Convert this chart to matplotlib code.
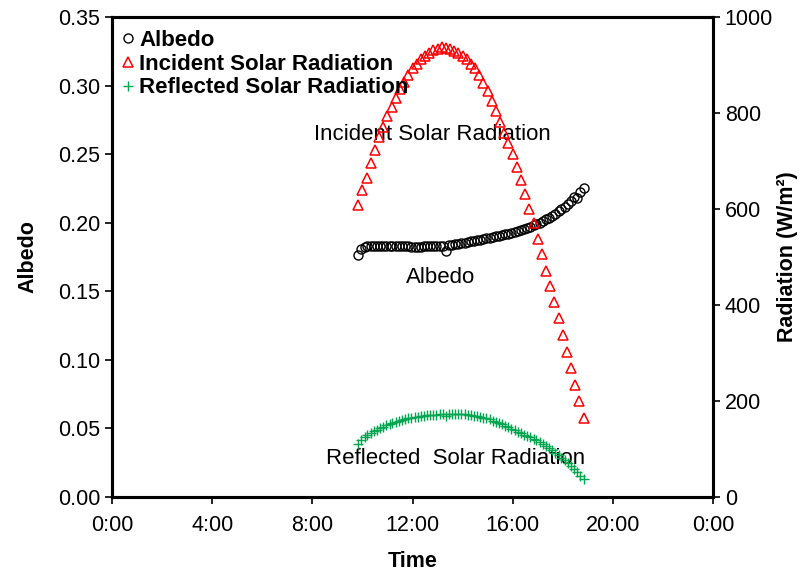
import matplotlib
matplotlib.use('Agg')
import matplotlib.pyplot as plt

plt.rcParams['font.family'] = ['Liberation Sans', 'DejaVu Sans']

# incident radiation, 10 minute readings
inc_times = ['9:50', '10:00', '10:10', '10:20', '10:30', '10:40', '10:50',
             '11:00', '11:10', '11:20', '11:30', '11:40', '11:50',
             '12:00', '12:10', '12:20', '12:30', '12:40', '12:50',
             '13:00', '13:10', '13:20', '13:30', '13:40', '13:50',
             '14:00', '14:10', '14:20', '14:30', '14:40', '14:50',
             '15:00', '15:10', '15:20', '15:30', '15:40', '15:50',
             '16:00', '16:10', '16:20', '16:30', '16:40', '16:50',
             '17:00', '17:10', '17:20', '17:30', '17:40', '17:50',
             '18:00', '18:10', '18:20', '18:30', '18:40', '18:50']
incident = [608, 640, 665, 695, 723, 749, 771, 794, 813, 832,
            849, 865, 879, 893, 903, 912, 919, 926, 931, 934,
            937, 936, 933, 929, 924, 919, 912, 903, 893, 879,
            862, 845, 825, 804, 781, 758, 737, 714, 688, 660,
            631, 601, 570, 537, 506, 471, 440, 406, 372, 338,
            303, 268, 233, 199, 164]

# albedo + reflected radiation
alb_times = ['9:50', '9:57',
             '10:05', '10:12', '10:20', '10:27', '10:35', '10:42', '10:50', '10:57',
             '11:05', '11:12', '11:20', '11:27', '11:35', '11:42', '11:50', '11:57',
             '12:05', '12:12', '12:20', '12:27', '12:35', '12:42', '12:50', '12:57',
             '13:05', '13:12', '13:20', '13:27', '13:35', '13:42', '13:50', '13:57',
             '14:05', '14:12', '14:20', '14:27', '14:35', '14:42', '14:50', '14:57',
             '15:05', '15:12', '15:20', '15:27', '15:35', '15:42', '15:50', '15:57',
             '16:05', '16:12', '16:20', '16:27', '16:35', '16:42', '16:50', '16:57',
             '17:05', '17:12', '17:20', '17:27', '17:35', '17:42', '17:50', '17:57',
             '18:05', '18:12', '18:20', '18:27', '18:35', '18:42', '18:50']
albedo = [0.1765, 0.1810, 0.1825, 0.1830, 0.1832,
          0.1832, 0.1831, 0.1831, 0.1830, 0.1830, 0.1829, 0.1829, 0.1828,
          0.1828, 0.1827, 0.1827, 0.1827, 0.1826, 0.1826, 0.1826, 0.1826,
          0.1827, 0.1827, 0.1828, 0.1828, 0.1829, 0.1830, 0.1831,
          0.1796,
          0.1835, 0.1838, 0.1842, 0.1846, 0.1850, 0.1855, 0.1860, 0.1864,
          0.1868, 0.1872, 0.1876, 0.1880, 0.1885, 0.1890, 0.1895, 0.1900,
          0.1905, 0.1910, 0.1915, 0.1921, 0.1927, 0.1933, 0.1939, 0.1946,
          0.1953, 0.1960, 0.1968,
          0.1980, 0.1990, 0.2000, 0.2012, 0.2024, 0.2037, 0.2051, 0.2066,
          0.2082, 0.2099, 0.2117, 0.2136, 0.2156, 0.2190, 0.2180, 0.2222, 0.2255]
reflected = [110, 118, 124, 129, 134, 137, 140, 143, 146, 149,
             151, 154, 156, 158, 160, 162, 164, 165, 166, 167,
             168, 169, 170, 171, 171, 171, 172, 172, 169, 173,
             173, 173, 172, 172, 172, 171, 170, 169, 168, 167,
             165, 164, 162, 159, 157, 154, 151, 148, 145, 142,
             139, 136, 133, 130, 127, 124, 121, 118, 114, 110,
             106, 101, 97, 92, 87, 81, 76, 70, 64, 58,
             51, 44, 37]

xtick_labels = ['0:00', '4:00', '8:00', '12:00', '16:00', '20:00', '0:00']


def to_hours(s):
    h, m = s.split(':')
    return int(h) + int(m) / 60.0


t_inc = [to_hours(s) for s in inc_times]
t_alb = [to_hours(s) for s in alb_times]

fig = plt.figure(figsize=(8.02, 5.76), dpi=100)
ax1 = fig.add_subplot(111)
fig.subplots_adjust(left=0.1397, right=0.889, top=0.9705, bottom=0.1372)
ax2 = ax1.twinx()

l1, = ax1.plot(t_alb, albedo, 'o', mfc='none', mec='black', ms=6.5, mew=1.0,
               label='Albedo')
l2, = ax2.plot(t_inc, incident, '^', mfc='none', mec='#ff0000', ms=7.5, mew=1.1,
               label='Incident Solar Radiation')
l3, = ax2.plot(t_alb, reflected, '+', color='#00a550', ms=7, mew=1.0,
               label='Reflected Solar Radiation')

ax1.set_xlim(0, 24)
ax1.set_ylim(0, 0.35)
ax2.set_ylim(0, 1000)
ax1.set_xticks(range(0, 25, 4))
ax1.set_xticklabels(xtick_labels)
ax1.set_yticks([0, 0.05, 0.10, 0.15, 0.20, 0.25, 0.30, 0.35])
ax1.set_yticklabels(['%.2f' % v for v in ax1.get_yticks()])
ax2.set_yticks(range(0, 1001, 200))

for a in (ax1, ax2):
    for sp in a.spines.values():
        sp.set_linewidth(2.2)
    a.tick_params(direction='out', length=5, width=1.2, labelsize=15.5)
ax1.tick_params(axis='x', pad=8)

ax1.set_xlabel('Time', fontsize=15.5, fontweight='bold', labelpad=11)
ax1.set_ylabel('Albedo', fontsize=15.5, fontweight='bold', labelpad=14)
ax2.set_ylabel('Radiation (W/m²)', fontsize=15.5, fontweight='bold', labelpad=3)

ax1.text(12.78, 0.264, 'Incident Solar Radiation', fontsize=16, ha='center', va='center')
ax1.text(13.14, 0.160, 'Albedo', fontsize=16, ha='center', va='center')
ax1.text(13.7, 0.0277, 'Reflected  Solar Radiation', fontsize=16, ha='center', va='center')

ax2.legend(handles=[l1, l2, l3], loc='upper left', bbox_to_anchor=(0.016, 0.973),
           frameon=False, prop={'weight': 'bold', 'size': 16}, handlelength=0.6,
           handletextpad=0.2, labelspacing=0.12, borderaxespad=0,
           borderpad=0)

fig.savefig('out.png', dpi=100)
